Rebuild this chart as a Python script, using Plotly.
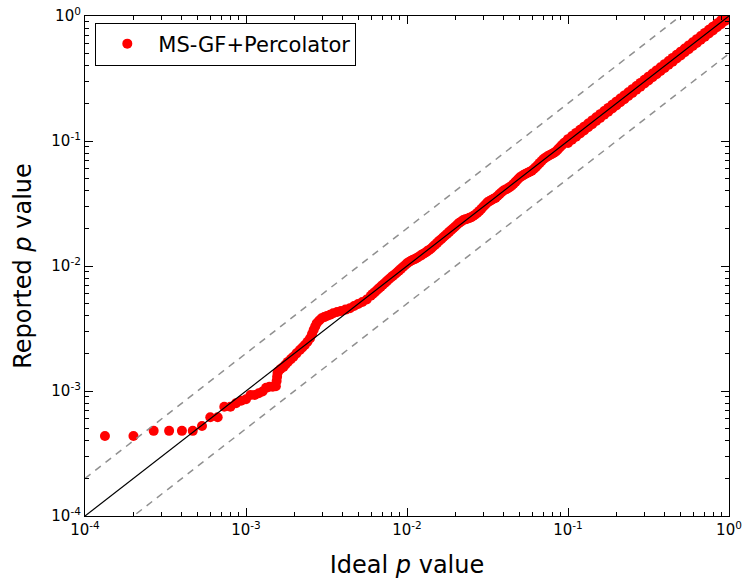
import plotly.graph_objects as go

# ---- data ----
# low end: individual, separated points
ideal_low = [
    1.33e-4, 2.00e-4, 2.67e-4, 3.33e-4, 4.00e-4, 4.67e-4, 5.33e-4, 6.00e-4,
    6.67e-4, 7.33e-4, 8.00e-4, 8.67e-4, 9.33e-4, 1.000e-3, 1.067e-3, 1.133e-3,
    1.200e-3, 1.267e-3, 1.333e-3, 1.400e-3, 1.467e-3, 1.533e-3,
    1.55e-3, 1.56e-3, 1.57e-3,
    1.58e-3, 1.64e-3, 1.71e-3, 1.76e-3, 1.82e-3, 1.90e-3, 1.97e-3, 2.06e-3,
    2.16e-3, 2.24e-3, 2.32e-3, 2.41e-3, 2.50e-3, 2.57e-3, 2.63e-3, 2.69e-3,
    2.75e-3, 2.85e-3, 2.95e-3, 3.06e-3, 3.18e-3, 3.33e-3, 3.48e-3, 3.68e-3,
    3.89e-3, 4.15e-3, 4.42e-3, 4.69e-3, 4.97e-3, 5.28e-3, 5.62e-3,
]
reported_low = [
    4.37e-4, 4.37e-4, 4.80e-4, 4.80e-4, 4.80e-4, 4.80e-4, 5.25e-4, 6.17e-4,
    6.17e-4, 7.48e-4, 7.48e-4, 7.98e-4, 8.36e-4, 8.60e-4, 9.29e-4, 9.30e-4,
    9.60e-4, 9.90e-4, 1.06e-3, 1.08e-3, 1.08e-3, 1.09e-3,
    1.20e-3, 1.30e-3, 1.39e-3,
    1.43e-3, 1.50e-3, 1.56e-3, 1.63e-3, 1.71e-3, 1.80e-3, 1.88e-3, 2.00e-3,
    2.13e-3, 2.23e-3, 2.33e-3, 2.48e-3, 2.64e-3, 2.85e-3, 3.08e-3, 3.28e-3,
    3.48e-3, 3.66e-3, 3.82e-3, 3.90e-3, 3.98e-3, 4.08e-3, 4.19e-3, 4.28e-3,
    4.37e-3, 4.48e-3, 4.59e-3, 4.78e-3, 4.97e-3, 5.15e-3, 5.40e-3,
]
# middle: a narrow continuous band
ideal_mid = [
    5.957e-3, 6.131e-3, 6.310e-3, 6.494e-3, 6.683e-3, 6.879e-3, 7.079e-3, 7.286e-3,
    7.499e-3, 7.718e-3, 7.943e-3, 8.175e-3, 8.414e-3, 8.660e-3, 8.913e-3, 9.173e-3,
    9.441e-3, 9.716e-3, 1.000e-2, 1.029e-2, 1.059e-2, 1.090e-2, 1.122e-2, 1.155e-2,
    1.189e-2, 1.223e-2, 1.259e-2, 1.296e-2, 1.334e-2, 1.373e-2, 1.413e-2, 1.454e-2,
    1.496e-2, 1.540e-2, 1.585e-2, 1.631e-2, 1.679e-2, 1.728e-2, 1.778e-2, 1.830e-2,
    1.884e-2, 1.939e-2, 1.995e-2, 2.054e-2, 2.113e-2, 2.175e-2, 2.239e-2, 2.304e-2,
    2.371e-2, 2.441e-2, 2.512e-2, 2.585e-2, 2.661e-2, 2.738e-2, 2.818e-2, 2.901e-2,
    2.985e-2, 3.073e-2, 3.162e-2, 3.255e-2, 3.350e-2, 3.448e-2, 3.548e-2, 3.652e-2,
    3.758e-2, 3.868e-2, 3.981e-2, 4.097e-2, 4.217e-2, 4.340e-2, 4.467e-2, 4.597e-2,
    4.732e-2, 4.870e-2, 5.012e-2, 5.158e-2, 5.309e-2, 5.464e-2, 5.623e-2, 5.788e-2,
    5.957e-2, 6.131e-2, 6.310e-2, 6.494e-2, 6.683e-2, 6.879e-2, 7.079e-2, 7.286e-2,
    7.499e-2, 7.718e-2, 7.943e-2, 8.175e-2, 8.414e-2, 8.660e-2, 8.913e-2, 9.173e-2,
    9.441e-2, 9.716e-2,
]
reported_mid = [
    5.78e-3, 5.98e-3, 6.18e-3, 6.40e-3, 6.62e-3, 6.84e-3, 7.08e-3, 7.32e-3,
    7.57e-3, 7.83e-3, 8.10e-3, 8.34e-3, 8.58e-3, 8.88e-3, 9.18e-3, 9.49e-3,
    9.82e-3, 1.015e-2, 1.05e-2, 1.076e-2, 1.10e-2, 1.123e-2, 1.14e-2, 1.166e-2,
    1.19e-2, 1.217e-2, 1.25e-2, 1.276e-2, 1.31e-2, 1.345e-2, 1.38e-2, 1.432e-2,
    1.48e-2, 1.532e-2, 1.59e-2, 1.639e-2, 1.70e-2, 1.754e-2, 1.81e-2, 1.876e-2,
    1.94e-2, 2.007e-2, 2.07e-2, 2.146e-2, 2.22e-2, 2.273e-2, 2.33e-2, 2.362e-2,
    2.39e-2, 2.428e-2, 2.46e-2, 2.521e-2, 2.58e-2, 2.670e-2, 2.76e-2, 2.872e-2,
    2.99e-2, 3.103e-2, 3.23e-2, 3.303e-2, 3.38e-2, 3.448e-2, 3.51e-2, 3.633e-2,
    3.76e-2, 3.887e-2, 4.02e-2, 4.097e-2, 4.17e-2, 4.275e-2, 4.38e-2, 4.551e-2,
    4.73e-2, 4.918e-2, 5.11e-2, 5.236e-2, 5.36e-2, 5.464e-2, 5.57e-2, 5.672e-2,
    5.78e-2, 5.977e-2, 6.18e-2, 6.429e-2, 6.68e-2, 6.947e-2, 7.22e-2, 7.396e-2,
    7.57e-2, 7.718e-2, 7.86e-2, 8.053e-2, 8.25e-2, 8.573e-2, 8.91e-2, 9.265e-2,
    9.63e-2, 9.862e-2,
]
# high end: a wider band (upper edge, lower edge and centre of the scatter)
ideal_high = [
    0.1000, 0.1059, 0.1122, 0.1189, 0.1259, 0.1334, 0.1413, 0.1496,
    0.1585, 0.1679, 0.1778, 0.1884, 0.1995, 0.2113, 0.2239, 0.2371,
    0.2512, 0.2661, 0.2818, 0.2985, 0.3162, 0.3350, 0.3548, 0.3758,
    0.3981, 0.4217, 0.4467, 0.4732, 0.5012, 0.5309, 0.5623, 0.5957,
    0.6310, 0.6683, 0.7079, 0.7499, 0.7943, 0.8414, 0.8913, 0.9441, 1.000,
]
reported_high_upper = [
    0.1035, 0.1096, 0.1161, 0.1231, 0.1303, 0.1381, 0.1462, 0.1548,
    0.1640, 0.1738, 0.1840, 0.1950, 0.2065, 0.2187, 0.2317, 0.2454,
    0.2600, 0.2754, 0.2917, 0.3089, 0.3273, 0.3467, 0.3672, 0.3890,
    0.4120, 0.4365, 0.4623, 0.4898, 0.5187, 0.5495, 0.5820, 0.6165,
    0.6531, 0.6917, 0.7327, 0.7761, 0.8221, 0.8708, 0.9225, 0.9771, 1.035,
]
reported_high_lower = [
    0.0965, 0.1022, 0.1083, 0.1147, 0.1215, 0.1287, 0.1364, 0.1444,
    0.1530, 0.1620, 0.1716, 0.1818, 0.1925, 0.2039, 0.2161, 0.2288,
    0.2424, 0.2568, 0.2719, 0.2881, 0.3051, 0.3233, 0.3424, 0.3626,
    0.3842, 0.4069, 0.4311, 0.4566, 0.4837, 0.5123, 0.5426, 0.5749,
    0.6089, 0.6449, 0.6831, 0.7237, 0.7665, 0.8120, 0.8601, 0.9111, 0.965,
]
ideal_high_centre = [
    0.1029, 0.1090, 0.1155, 0.1223, 0.1296, 0.1373, 0.1454, 0.1540,
    0.1631, 0.1728, 0.1830, 0.1939, 0.2054, 0.2175, 0.2304, 0.2441,
    0.2585, 0.2738, 0.2901, 0.3073, 0.3255, 0.3448, 0.3652, 0.3868,
    0.4097, 0.4340, 0.4597, 0.4870, 0.5158, 0.5464, 0.5788, 0.6131,
    0.6494, 0.6879, 0.7286, 0.7718, 0.8175, 0.8660, 0.9173, 0.9716,
]
reported_high_centre = [
    0.1029, 0.1090, 0.1155, 0.1223, 0.1296, 0.1373, 0.1454, 0.1540,
    0.1631, 0.1728, 0.1830, 0.1939, 0.2054, 0.2175, 0.2304, 0.2441,
    0.2585, 0.2738, 0.2901, 0.3073, 0.3255, 0.3448, 0.3652, 0.3868,
    0.4097, 0.4340, 0.4597, 0.4870, 0.5158, 0.5464, 0.5788, 0.6131,
    0.6494, 0.6879, 0.7286, 0.7718, 0.8175, 0.8660, 0.9173, 0.9716,
]

series_name = "MS-GF+Percolator"
diag_x = [1e-4, 1.0]
band_factors = [2.0, 0.5]

major_vals = [1e-4, 1e-3, 1e-2, 1e-1, 1.0]
major_text = ["10<sup>-4</sup>", "10<sup>-3</sup>", "10<sup>-2</sup>", "10<sup>-1</sup>", "10<sup>0</sup>"]
minor_vals = [m * d for d in [1e-4, 1e-3, 1e-2, 1e-1] for m in range(2, 10)]

xs = ideal_low + ideal_mid + ideal_high + ideal_high + ideal_high_centre
ys = reported_low + reported_mid + reported_high_upper + reported_high_lower + reported_high_centre

fig = go.Figure()
fig.add_trace(go.Scatter(
    x=xs, y=ys, mode="markers", name=series_name,
    marker=dict(color="#ff0000", size=10, line=dict(width=0)),
))
for f in band_factors:
    fig.add_trace(go.Scatter(
        x=diag_x, y=[v * f for v in diag_x], mode="lines", showlegend=False,
        line=dict(color="#909090", width=1.5, dash="7px,6px"), hoverinfo="skip",
    ))
fig.add_trace(go.Scatter(
    x=diag_x, y=diag_x, mode="lines", showlegend=False,
    line=dict(color="black", width=1.2), hoverinfo="skip",
))

axis_common = dict(
    type="log", range=[-4, 0],
    tickmode="array", tickvals=major_vals, ticktext=major_text,
    ticks="inside", ticklen=8, tickwidth=1, tickcolor="black",
    minor=dict(tickmode="array", tickvals=minor_vals, ticks="inside", ticklen=4,
               tickwidth=1, tickcolor="black", showgrid=False),
    showline=True, linecolor="black", linewidth=1.2, mirror="allticks",
    showgrid=False, zeroline=False, ticklabeloverflow="allow",
    tickfont=dict(family="DejaVu Sans", size=15, color="black"),
)

fig.update_xaxes(**axis_common,
                 title=dict(text="Ideal <i>p</i> value", standoff=18,
                            font=dict(family="DejaVu Sans", size=24, color="black")))
fig.update_yaxes(**axis_common,
                 title=dict(text="Reported <i>p</i> value", standoff=12,
                            font=dict(family="DejaVu Sans", size=24, color="black")))

fig.update_layout(
    width=751, height=586,
    margin=dict(l=85, r=22, t=16, b=70, autoexpand=False),
    paper_bgcolor="white", plot_bgcolor="white",
    font=dict(family="DejaVu Sans", color="black"),
    showlegend=True,
    hovermode=False,
    legend=dict(x=0.016, y=0.987, xanchor="left", yanchor="top",
                bordercolor="black", borderwidth=1, bgcolor="white",
                font=dict(family="DejaVu Sans", size=21, color="black"),
                itemwidth=52),
)

fig.write_html("out.html", config={"displayModeBar": False},
               post_script="document.body.style.margin='0';")
